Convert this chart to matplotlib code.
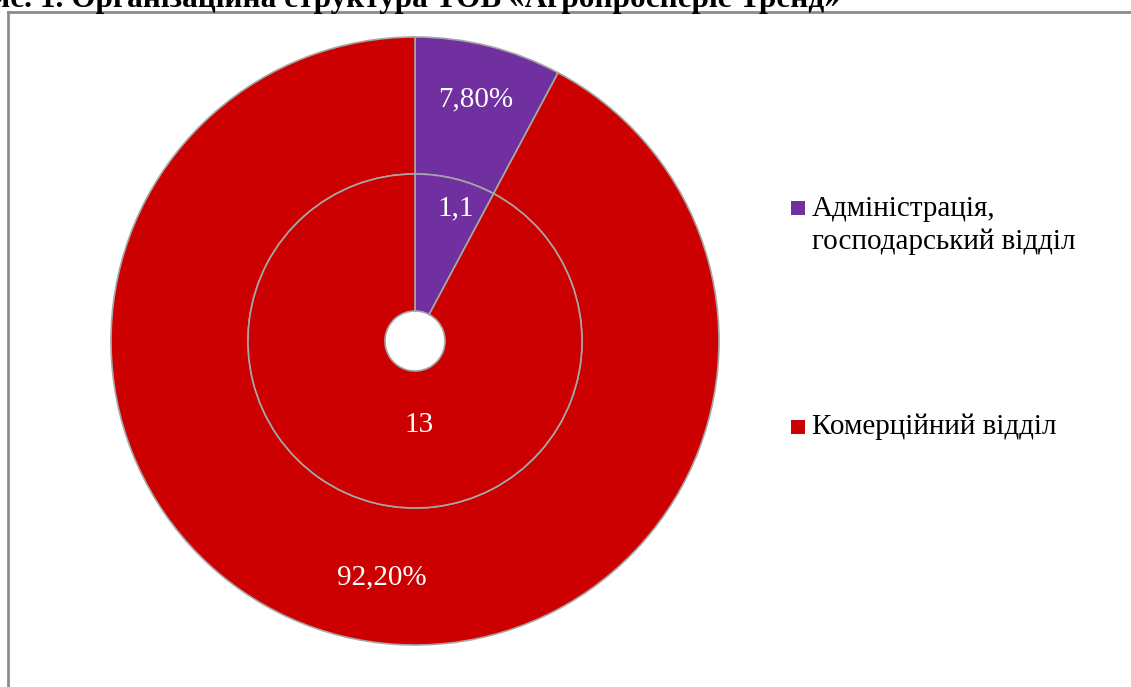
#!/usr/bin/env python3
"""
Doughnut chart: organisational structure of the company
(two rings, inner = headcount, outer = share)
"""
import numpy as np
import matplotlib.pyplot as plt
import matplotlib.patches as patches

# Data
categories = ["Адміністрація,\nгосподарський відділ", "Комерційний відділ"]
headcount = [1.1, 13]
share_pct = [7.8, 92.2]
headcount_labels = ["1,1", "13"]
share_labels = ["7,80%", "92,20%"]
colors = ["#7030A0", "#CC0000"]

TITLE = "Рис. 1. Організаційна структура ТОВ «Агропросперіс Тренд»"

# Layout constants (pixels in a 1131x687 figure)
W, H = 1131, 687
CX, CY = 415, 341
R_OUT, R_MID, R_HOLE = 304, 167, 30
EDGE = "#A6A6A6"
FONT = "Liberation Serif"

plt.rcParams["font.family"] = [FONT, "DejaVu Serif"]

fig = plt.figure(figsize=(W / 100, H / 100), dpi=100)
fig.patch.set_facecolor("white")

half = 312
ax = fig.add_axes([(CX - half) / W, (H - CY - half) / H, 2 * half / W, 2 * half / H])

ring_w = (R_OUT - R_MID) / R_OUT
outer, _ = ax.pie(share_pct, radius=1.0, colors=colors, startangle=90,
                  counterclock=False,
                  wedgeprops=dict(width=ring_w, edgecolor=EDGE, linewidth=1.2))
inner, _ = ax.pie(headcount, radius=R_MID / R_OUT, colors=colors, startangle=90,
                  counterclock=False,
                  wedgeprops=dict(width=(R_MID - R_HOLE) / R_OUT,
                                  edgecolor=EDGE, linewidth=1.2))

# pie() resets the limits, so set them afterwards
ax.set_xlim(-half / R_OUT, half / R_OUT)
ax.set_ylim(-half / R_OUT, half / R_OUT)
ax.set_aspect("equal")
ax.axis("off")


def place_labels(wedges, labels, radii, shifts):
    for w, lab, r, d in zip(wedges, labels, radii, shifts):
        ang = np.deg2rad((w.theta1 + w.theta2) / 2 + d)
        ax.text(r * np.cos(ang), r * np.sin(ang), lab, color="white",
                fontsize=21, ha="center", va="center")


place_labels(outer, share_labels, [0.82, 0.785], [0, 6])
place_labels(inner, headcount_labels, [0.455, 0.276], [-3, 17])

# Legend
leg_x = 791 / W
for lab, col, yc, n in zip(categories, colors, [208, 427], [2, 1]):
    fig.add_artist(patches.Rectangle((leg_x, 1 - (yc + 7) / H), 14 / W, 14 / H,
                                     transform=fig.transFigure,
                                     facecolor=col, edgecolor="none"))
    y_text = yc + (n - 1) * 35 / 2
    fig.text(812 / W, 1 - y_text / H, lab, fontsize=21, ha="left",
             va="center", linespacing=1.3)

# Chart frame (top and left edges visible)
fig.add_artist(plt.Line2D([8 / W, 8 / W], [0, 1 - 12 / H],
                          transform=fig.transFigure, color="#8C8C8C", lw=2))
fig.add_artist(plt.Line2D([8 / W, 1], [1 - 12 / H, 1 - 12 / H],
                          transform=fig.transFigure, color="#8C8C8C", lw=2))

# Title, cut off by the top edge
fig.text(840 / W, 1 - 7 / H, TITLE, fontsize=22.5, fontweight="bold",
         ha="right", va="baseline")

fig.savefig("out.png", dpi=100)
